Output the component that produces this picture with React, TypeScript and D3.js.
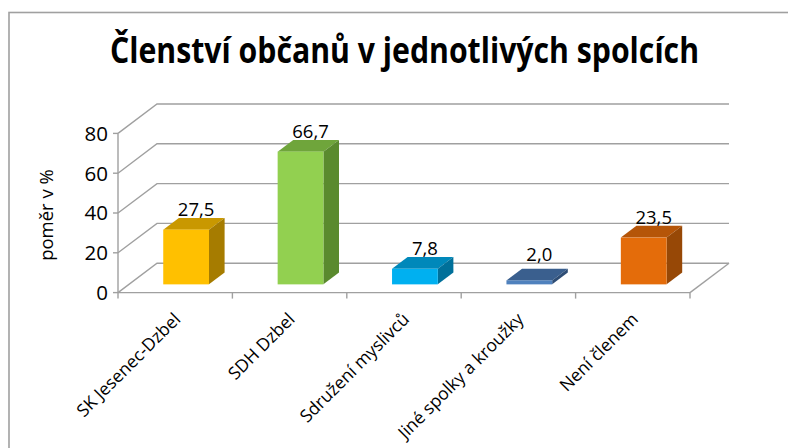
import React, { useLayoutEffect, useRef, useState } from "react";
import * as d3 from "d3";

const categories = ["SK Jesenec-Dzbel", "SDH Dzbel", "Sdružení myslivců", "Jiné spolky a kroužky", "Není členem"];
const values = [27.5, 66.7, 7.8, 2.0, 23.5];
const yTicks = [0, 20, 40, 60, 80];
const title = "Členství občanů v jednotlivých spolcích";
const yAxisTitle = "poměr v %";

const palette = [
  { front: "#FFC000", top: "#C99800", side: "#A67C00" },
  { front: "#92D050", top: "#6FA53B", side: "#5A8A2E" },
  { front: "#00B0F0", top: "#0088BA", side: "#00709A" },
  { front: "#4F81BD", top: "#3A5F8E", side: "#2E4D75" },
  { front: "#E46C0A", top: "#B55508", side: "#974806" },
];

export default function App() {
  const W = 788, H = 448;
  const x0 = 118, x1 = 690;
  const depthDx = 39, depthDy = 29.4;
  const x = d3.scaleBand<string>().domain(categories).range([x0, x1]).paddingInner(0).paddingOuter(0);
  const y = d3.scaleLinear().domain([0, 80]).range([292.6, 133.4]);
  const bw = x.bandwidth();
  const barW = bw * 0.4;
  const f0 = 0.28, f1 = 0.68;
  const grid = "#A0A0A0";

  const fmt = (v: number) => d3.format(".1f")(v).replace(".", ",");
  const font = "'Open Sans', 'DejaVu Sans', sans-serif";

  const titleRef = useRef<SVGTextElement>(null);
  const [titleScale, setTitleScale] = useState(0.75);
  const titleWidth = 589;
  useLayoutEffect(() => {
    if (titleRef.current) {
      const len = titleRef.current.getComputedTextLength();
      if (len > 0) setTitleScale(titleWidth / len);
    }
  }, []);

  return (
    <svg width={W} height={H} style={{ position: "absolute", left: 0, top: 0, background: "#fff" }}>
      <rect x={9} y={12.5} width={W} height={H} fill="#fff" stroke="#A0A0A0" strokeWidth={1.6} />
      <g transform={`translate(404.5,63) scale(${titleScale},1)`}>
        <text ref={titleRef} x={0} y={0} textAnchor="middle" fontFamily={font} fontWeight="bold" fontSize={35}
          fill="#000">{title}</text>
      </g>

      {yTicks.map((t) => (
        <polyline key={"g" + t} fill="none" stroke={grid} strokeWidth={1.4}
          points={`${x0},${y(t)} ${x0 + depthDx},${y(t) - depthDy} ${x1 + depthDx},${y(t) - depthDy}`} />
      ))}
      <line x1={x0} y1={y(0)} x2={x1} y2={y(0)} stroke={grid} strokeWidth={1.4} />
      <line x1={x1} y1={y(0)} x2={x1 + depthDx} y2={y(0) - depthDy} stroke={grid} strokeWidth={1.4} />
      <line x1={x0} y1={y(80)} x2={x0} y2={y(0)} stroke={grid} strokeWidth={1.4} />
      {yTicks.map((t) => (
        <g key={"t" + t}>
          <line x1={x0 - 5} y1={y(t)} x2={x0} y2={y(t)} stroke={grid} strokeWidth={1.4} />
          <text x={108} y={y(t)} dy="0.36em" textAnchor="end" fontFamily={font} fontSize={20.5} fill="#000">{t}</text>
        </g>
      ))}
      {[...categories.map((c) => x(c) as number), x1].map((px, i) => (
        <line key={"ct" + i} x1={px} y1={y(0)} x2={px} y2={y(0) + 6} stroke={grid} strokeWidth={1.4} />
      ))}

      {categories.map((c, i) => {
        const v = values[i];
        const cx = (x(c) as number) + bw / 2 + depthDx * f0;
        const bx0 = cx - barW / 2, bx1 = cx + barW / 2;
        const yb = y(0) - depthDy * f0;
        const yt = yb - (y(0) - y(v));
        const ddx = depthDx * (f1 - f0), ddy = depthDy * (f1 - f0);
        const col = palette[i];
        return (
          <g key={"b" + i}>
            <polygon fill={col.top} points={`${bx0},${yt} ${bx0 + ddx},${yt - ddy} ${bx1 + ddx},${yt - ddy} ${bx1},${yt}`} />
            <polygon fill={col.side} points={`${bx1},${yt} ${bx1 + ddx},${yt - ddy} ${bx1 + ddx},${yb - ddy} ${bx1},${yb}`} />
            <rect x={bx0} y={yt} width={barW} height={yb - yt} fill={col.front} />
            <text x={cx + 10} y={Math.min(yt - 14, yb - 23)} textAnchor="middle" fontFamily={font} fontSize={18.5} fill="#000">{fmt(v)}</text>
          </g>
        );
      })}

      {categories.map((c) => {
        const px = (x(c) as number) + bw / 2 + 2;
        const py = 316;
        return (
          <text key={"cl" + c} x={px} y={py} dy="0.35em" textAnchor="end" fontFamily={font} fontSize={17.5}
            transform={`rotate(-45 ${px} ${py})`} fill="#000">{c}</text>
        );
      })}

      <text x={47} y={215} dy="0.35em" textAnchor="middle" fontFamily={font} fontSize={18.5}
        transform="rotate(-90 47 215)" fill="#000">{yAxisTitle}</text>
    </svg>
  );
}
